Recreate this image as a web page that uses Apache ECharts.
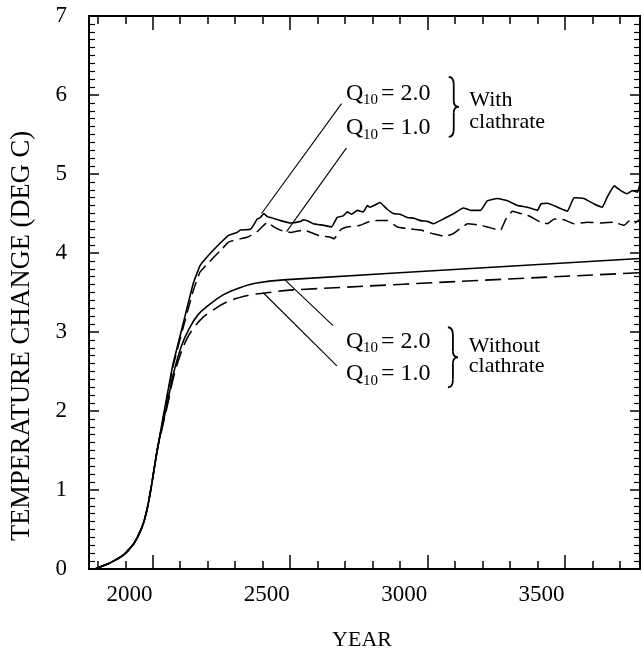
<!DOCTYPE html>
<html><head><meta charset="utf-8">
<script src="https://cdn.jsdelivr.net/npm/echarts@6/dist/echarts.min.js"></script>
<style>html,body{margin:0;padding:0;background:#fff}#c{width:642px;height:654px}</style>
</head><body><div id="c"></div>
<script>
const FONT = '"Liberation Serif", "Times New Roman", serif';

// Shared early warming (all four runs coincide)
const commonYears = [1875, 1882, 1931, 1979, 2016, 2046, 2064, 2080, 2101];
const commonTemps = [0.00, 0.01, 0.08, 0.18, 0.32, 0.53, 0.75, 1.05, 1.50];

// With clathrate, Q10 = 2.0 (solid)
const withQ2Years = [2119,2140,2159,2196,2232,2257,2293,2329,2360,2392,2404,2441,2453,2465,2477,2489,2502,2514,2550,2586,2623,2633,2659,2669,2708,2736,2756,2778,2793,2809,2829,2851,2866,2875,2890,2912,2936,2960,2985,3011,3035,3060,3085,3106,3142,3181,3215,3242,3278,3302,3339,3376,3412,3448,3485,3497,3521,3558,3594,3618,3654,3691,3721,3739,3764,3788,3812,3830,3849,3858];
const withQ2Temps = [1.85,2.25,2.60,3.11,3.61,3.84,3.99,4.12,4.22,4.26,4.29,4.30,4.36,4.43,4.45,4.50,4.46,4.45,4.41,4.38,4.40,4.42,4.39,4.37,4.35,4.33,4.45,4.47,4.52,4.49,4.54,4.52,4.60,4.58,4.60,4.64,4.56,4.50,4.49,4.45,4.44,4.41,4.40,4.37,4.43,4.50,4.57,4.54,4.54,4.66,4.69,4.66,4.60,4.58,4.54,4.62,4.63,4.58,4.53,4.70,4.69,4.62,4.58,4.71,4.85,4.79,4.75,4.79,4.77,4.88];

// With clathrate, Q10 = 1.0 (dashed)
const withQ1Years = [2119,2140,2159,2196,2232,2257,2283,2331,2362,2404,2429,2441,2465,2477,2502,2525,2550,2586,2633,2690,2732,2745,2770,2792,2840,2866,2902,2939,2975,3011,3060,3108,3150,3181,3200,3230,3278,3302,3333,3351,3370,3394,3424,3448,3497,3521,3546,3582,3618,3667,3715,3764,3800,3820,3840,3858];
const withQ1Temps = [1.83,2.22,2.57,3.06,3.52,3.76,3.86,4.03,4.14,4.18,4.20,4.22,4.27,4.31,4.39,4.33,4.29,4.26,4.29,4.22,4.20,4.18,4.30,4.33,4.35,4.39,4.41,4.41,4.33,4.31,4.29,4.24,4.21,4.25,4.30,4.37,4.35,4.33,4.30,4.29,4.43,4.53,4.50,4.48,4.39,4.37,4.43,4.42,4.37,4.39,4.38,4.39,4.35,4.41,4.38,4.43];

// Without clathrate, Q10 = 2.0 (solid)
const noQ2Years = [2119,2140,2160,2190,2220,2250,2281,2341,2402,2463,2560,3858];
const noQ2Temps = [1.80,2.13,2.47,2.83,3.06,3.22,3.32,3.47,3.56,3.62,3.66,3.93];

// Without clathrate, Q10 = 1.0 (dashed)
const noQ1Years = [2119,2140,2160,2184,2210,2232,2260,2293,2354,2439,2487,2584,3858];
const noQ1Temps = [1.78,2.10,2.42,2.70,2.92,3.04,3.16,3.25,3.38,3.47,3.49,3.53,3.75];

// Axis ticks / labels
const xLabelYears = [2000, 2500, 3000, 3500];
const xMajorTicks = [2085, 2585, 3085, 3585];
const xMinorTicks = [1885,1985,2185,2285,2385,2485,2685,2785,2885,2985,3185,3285,3385,3485,3685,3785];

function pairs(ys, ts) {
  const out = commonYears.map((y, i) => [y, commonTemps[i]]);
  ys.forEach((y, i) => out.push([y, ts[i]]));
  return out;
}

const X_MIN = 1853, X_MAX = 3858;
const axisLineStyle = { color: '#000', width: 2 };

function xAx(position, ticks, len, labels) {
  return {
    type: 'value', position, min: X_MIN, max: X_MAX, gridIndex: 0,
    splitLine: { show: false },
    axisLine: { show: true, onZero: false, lineStyle: axisLineStyle },
    axisTick: { show: true, inside: true, length: len, customValues: ticks, lineStyle: { color: '#000', width: 1.5 } },
    axisLabel: labels ? { show: true, customValues: labels, formatter: v => String(v), fontFamily: FONT, fontSize: 23, color: '#000', margin: 14 } : { show: false }
  };
}
function yAx(position, labels) {
  return {
    type: 'value', position, min: 0, max: 7, interval: 1, gridIndex: 0,
    splitLine: { show: false },
    axisLine: { show: true, onZero: false, lineStyle: axisLineStyle },
    axisTick: { show: true, inside: true, length: 10, lineStyle: { color: '#000', width: 1.5 } },
    minorTick: { show: true, splitNumber: 10, length: 6, lineStyle: { color: '#000', width: 1.2 } },
    minorSplitLine: { show: false },
    axisLabel: labels ? { show: true, formatter: v => String(v), fontFamily: FONT, fontSize: 23, color: '#000', margin: 22 } : { show: false }
  };
}

const lineBase = { type: 'line', showSymbol: false, symbol: 'none', xAxisIndex: 0, yAxisIndex: 0, silent: true, animation: false };

const option = {
  animation: false,
  backgroundColor: '#fff',
  grid: { left: 89, right: 2, top: 16, bottom: 85, containLabel: false },
  xAxis: [
    xAx('bottom', xMajorTicks, 14, xLabelYears),
    xAx('bottom', xMinorTicks, 8, null),
    xAx('top', xMajorTicks, 14, null),
    xAx('top', xMinorTicks, 8, null)
  ],
  yAxis: [ yAx('left', true), yAx('right', false) ],
  series: [
    Object.assign({}, lineBase, { name: 'With clathrate Q10=2.0', smooth: 0.1, data: pairs(withQ2Years, withQ2Temps), lineStyle: { color: '#000', width: 1.6, type: 'solid' } }),
    Object.assign({}, lineBase, { name: 'With clathrate Q10=1.0', smooth: 0.1, data: pairs(withQ1Years, withQ1Temps), lineStyle: { color: '#000', width: 1.5, type: [13, 6] } }),
    Object.assign({}, lineBase, { name: 'Without clathrate Q10=2.0', smooth: 0.4, data: pairs(noQ2Years, noQ2Temps), lineStyle: { color: '#000', width: 1.6, type: 'solid' } }),
    Object.assign({}, lineBase, { name: 'Without clathrate Q10=1.0', smooth: 0.4, data: pairs(noQ1Years, noQ1Temps), lineStyle: { color: '#000', width: 1.6, type: [16, 7] } })
  ]
};

const chart = echarts.init(document.getElementById('c'), null, { renderer: 'canvas' });
chart.setOption(option);

const P = (x, y) => chart.convertToPixel({ gridIndex: 0 }, [x, y]);
const g = [];
const stroke = (w) => ({ stroke: '#000', fill: null, lineWidth: w });
function seg(x1, y1, x2, y2, w) {
  g.push({ type: 'line', silent: true, shape: { x1, y1, x2, y2 }, style: stroke(w) });
}
function quad(x1, y1, cx, cy, x2, y2, w) {
  g.push({ type: 'bezierCurve', silent: true, shape: { x1, y1, cpx1: cx, cpy1: cy, x2, y2 }, style: stroke(w) });
}
function leader(a, b) {
  const p1 = P(a[0], a[1]), p2 = P(b[0], b[1]);
  seg(p1[0], p1[1], p2[0], p2[1], 1.1);
}
function txt(x, y, s, size, align) {
  g.push({ type: 'text', silent: true, x, y, style: { text: s, fontFamily: FONT, fontSize: size, fill: '#000', align: align || 'left', verticalAlign: 'middle' } });
}
function qlabel(year, temp, val) {
  const p = P(year, temp);
  txt(p[0], p[1], 'Q', 24);
  txt(p[0] + 17, p[1] + 7, '10', 15);
  txt(p[0] + 35, p[1], '= ' + val, 24);
}
function brace(year, top, bottom) {
  const a = P(year, top), b = P(year, bottom);
  const x0 = a[0], y0 = a[1], h = b[1] - a[1], w = 10, m = y0 + h / 2, xm = x0 + w / 2;
  quad(x0, y0, xm, y0, xm, y0 + h * 0.13, 1.8);
  seg(xm, y0 + h * 0.13, xm, m - h * 0.1, 1.8);
  quad(xm, m - h * 0.1, xm, m, x0 + w, m, 1.8);
  quad(x0 + w, m, xm, m, xm, m + h * 0.1, 1.8);
  seg(xm, m + h * 0.1, xm, y0 + h * 0.87, 1.8);
  quad(xm, y0 + h * 0.87, xm, y0 + h, x0, y0 + h, 1.8);
}

// With clathrate block
qlabel(2788, 6.02, '2.0');
qlabel(2788, 5.58, '1.0');
brace(3162, 6.23, 5.47);
(function(){ const p = P(3237, 5.93); txt(p[0], p[1], 'With', 22); const q = P(3237, 5.66); txt(q[0], q[1], 'clathrate', 22); })();
leader([2772, 5.89], [2481, 4.50]);
leader([2790, 5.33], [2572, 4.27]);

// Without clathrate block
qlabel(2788, 2.88, '2.0');
qlabel(2788, 2.47, '1.0');
brace(3159, 3.06, 2.30);
(function(){ const p = P(3235, 2.82); txt(p[0], p[1], 'Without', 22); const q = P(3235, 2.57); txt(q[0], q[1], 'clathrate', 22); })();
leader([2566, 3.66], [2741, 3.08]);
leader([2486, 3.50], [2755, 2.57]);

// Axis titles
g.push({ type: 'text', silent: true, x: 22, y: 336, rotation: Math.PI / 2, style: { text: 'TEMPERATURE CHANGE (DEG C)', fontFamily: FONT, fontSize: 26.5, fill: '#000', align: 'center', verticalAlign: 'middle' } });
g.push({ type: 'text', silent: true, x: 362, y: 640, style: { text: 'YEAR', fontFamily: FONT, fontSize: 22, fill: '#000', align: 'center', verticalAlign: 'middle' } });

chart.setOption({ graphic: g });
</script>
</body></html>
